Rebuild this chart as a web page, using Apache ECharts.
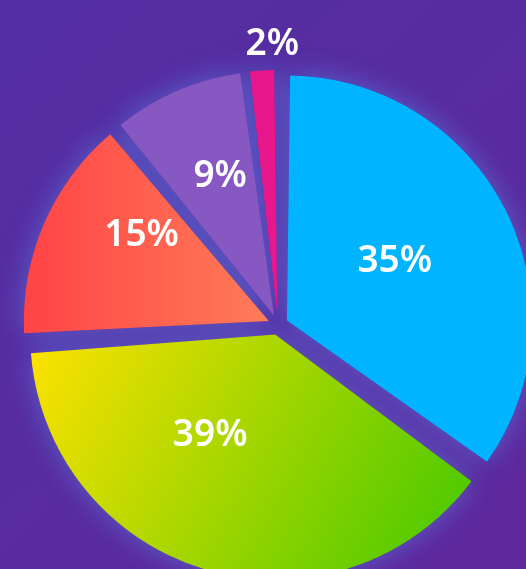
<!DOCTYPE html>
<html>
<head>
<meta charset="utf-8">
<script src="https://cdn.jsdelivr.net/npm/echarts@6/dist/echarts.min.js"></script>
<style>
  html, body { margin: 0; padding: 0; }
  #chart { width: 526px; height: 569px; }
</style>
</head>
<body>
<div id="chart"></div>
<script>
const shares = [35, 39, 15, 9, 2];
const sliceColors = [
  "#00b4ff",
  { type: "linear", x: 0, y: 0, x2: 1, y2: 1, colorStops: [{ offset: 0, color: "#ffe200" }, { offset: 1, color: "#40c800" }] },
  { type: "linear", x: 0, y: 0.5, x2: 1, y2: 0.5, colorStops: [{ offset: 0, color: "#ff4446" }, { offset: 1, color: "#ff7c58" }] },
  "#8858c2",
  "#e8188c",
];
const bg = "#5a2c9f";

// small nudges so the labels sit where the original design put them
const labelNudge = [[-4, -2], [-30, -20], [-12, -36], [-4, -24], [17, 0]];

const chart = echarts.init(document.getElementById("chart"));

// shared pie geometry, all slices pulled out a little
const pieBase = {
  type: "pie",
  center: [278, 325],
  radius: [0, 245],
  startAngle: 90,
  clockwise: true,
  padAngle: 1.5,
  selectedMode: "multiple",
  selectedOffset: 10,
  avoidLabelOverlap: false,
  emphasis: { disabled: true },
};

chart.setOption({
  backgroundColor: {
    type: "linear", x: 0, y: 0, x2: 1, y2: 1,
    colorStops: [{ offset: 0, color: "#532fa3" }, { offset: 1, color: "#5e289c" }],
  },
  animation: false,
  series: [
    // glow layer underneath
    Object.assign({}, pieBase, {
      silent: true,
      z: 1,
      label: { show: false },
      labelLine: { show: false },
      itemStyle: {
        color: bg,
        shadowBlur: 28,
        shadowColor: "rgba(90,160,255,0.45)",
      },
      data: shares.map((v) => ({ value: v, selected: true })),
    }),
    Object.assign({}, pieBase, {
      z: 2,
      label: {
        show: true,
        position: "inside",
        formatter: "{c}%",
        color: "#ffffff",
        fontFamily: "Noto Sans",
        fontWeight: 600,
        fontSize: 37,
      },
      labelLine: { show: false },
      labelLayout: (p) => {
        const n = labelNudge[p.dataIndex];
        const out = { dx: n[0], dy: n[1] };
        if (p.dataIndex === shares.length - 1) out.align = "center";
        return out;
      },
      data: shares.map((v, i) => {
        const item = { value: v, selected: true, itemStyle: { color: sliceColors[i] } };
        if (i === shares.length - 1) {
          item.label = { position: "outside" };
          item.labelLine = { show: false, length: 26, length2: 0 };
        }
        return item;
      }),
    }),
  ],
});
</script>
</body>
</html>
